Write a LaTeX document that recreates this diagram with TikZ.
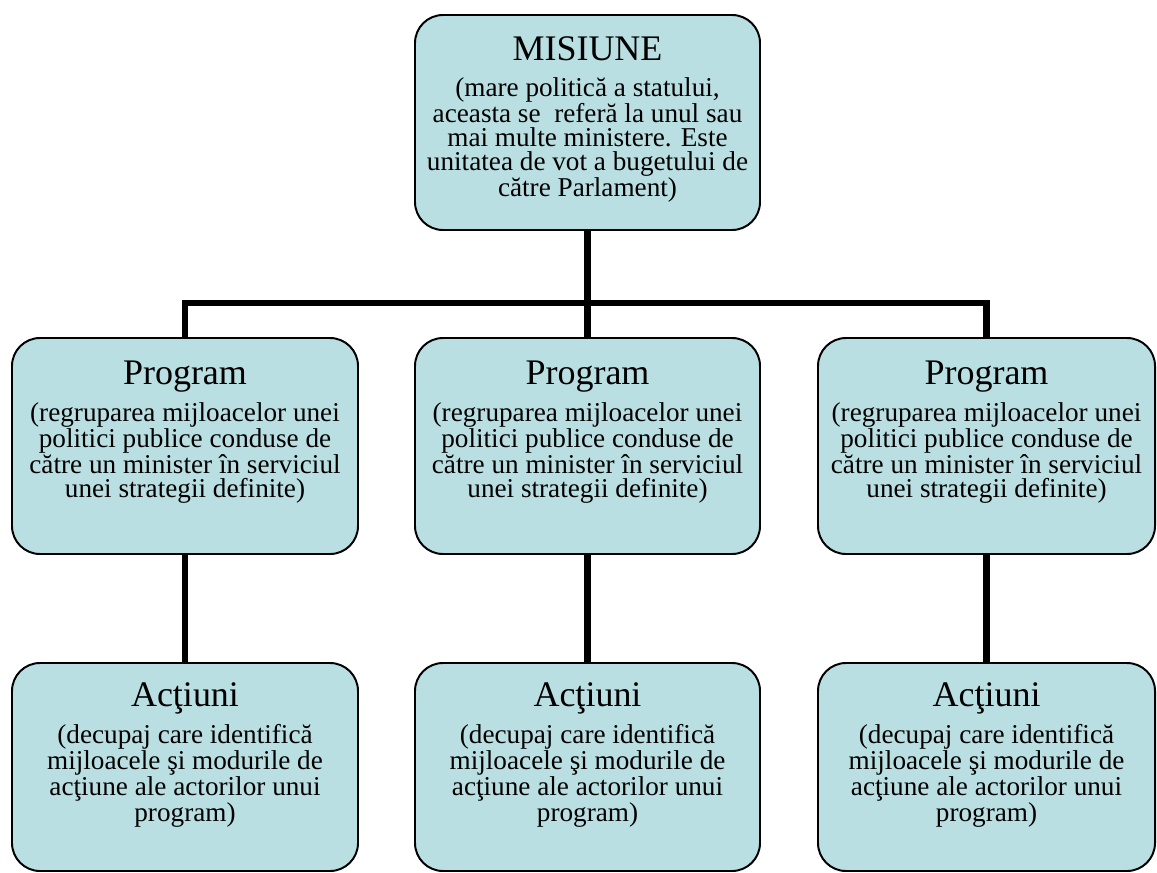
\documentclass[tikz,border=0pt]{standalone}
\usepackage{fontspec}
\setmainfont{Liberation Serif}
\usetikzlibrary{positioning,calc}
\definecolor{boxfill}{HTML}{BADFE2}
\tikzset{
    % Rounded box style
    unit box/.style={
        rectangle,
        rounded corners=0.7cm,
        minimum width=#1,
        minimum height=5.4cm,
        draw=black,
        fill=boxfill,
        line width=1.4pt,
        inner sep=0pt
    },
    unit box/.default=8.65cm,
    % Box heading style
    box title/.style={
        font=\fontsize{25.6}{28}\selectfont,
        anchor=base,
        inner sep=0pt
    },
    % Box body text style
    box text/.style={
        font=\fontsize{19.35}{17.07}\selectfont,
        align=center,
        anchor=north,
        inner sep=0pt
    },
    % Connector style
    link/.style={
        line width=4.3pt,
        draw=black
    }
}

\begin{document}
\begin{tikzpicture}
    \useasboundingbox (0,0) rectangle (28.925,-21.825);

    % Mission
    \node[unit box=8.625cm, minimum height=5.375cm] (mis) at (14.6875,-3.0625) {};
    \node[box title] (mistitle) at ($(mis.north)+(0,-1.15)$) {MISIUNE};
    \node[box text] (mistext) at ($(mis.north)+(0,-1.58)$) {(mare politică a statului,\\aceasta se\ \ referă la unul sau\\mai multe ministere. Este\\unitatea de vot a bugetului de\\către Parlament)};

    % Programs and actions
    \foreach \i/\x/\w in {1/4.625/8.65cm, 2/14.6875/8.625cm, 3/24.6625/8.425cm} {
        \node[unit box=\w] (prog\i) at (\x,-11.15) {};
        \node[box title] (progtitle\i) at ($(prog\i.north)+(0,-1.18)$) {Program};
        \node[box text] (progtext\i) at ($(prog\i.north)+(0,-1.63)$) {(regruparea mijloacelor unei\\politici publice conduse de\\către un minister în serviciul\\unei strategii definite)};
        \node[unit box=\w, minimum height=5.2cm] (act\i) at (\x,-19.175) {};
        \node[box title] (acttitle\i) at ($(act\i.north)+(0,-1.1)$) {Acţiuni};
        \node[box text] (acttext\i) at ($(act\i.north)+(0,-1.55)$) {(decupaj care identifică\\mijloacele şi modurile de\\acţiune ale actorilor unui\\program)};
    }

    % Connections
    \coordinate (bar) at (14.6875,-7.575);
    \draw[link] (prog1.north) |- (bar) -| (prog3.north);
    \draw[link] (mis.south) -- (prog2.north);
    \foreach \i in {1,2,3} {
        \draw[link] (prog\i.south) -- (act\i.north);
    }

\end{tikzpicture}
\end{document}
